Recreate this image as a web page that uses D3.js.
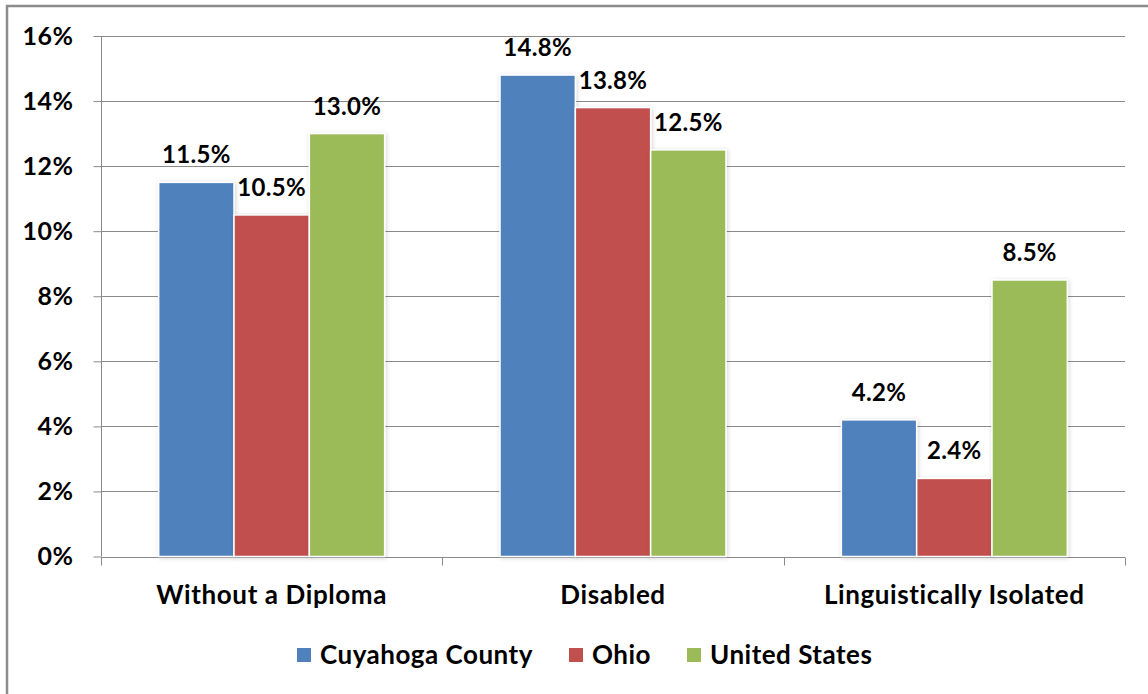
<!DOCTYPE html>
<html>
<head>
<meta charset="utf-8">
<script src="https://cdn.jsdelivr.net/npm/d3@7"></script>
<style>
  body { margin: 0; background: #fff; }
  svg { display: block; font-family: Lato, "Open Sans", sans-serif; font-weight: bold; }
</style>
</head>
<body>
<div id="chart"></div>
<script>
// data
const categories = ["Without a Diploma", "Disabled", "Linguistically Isolated"];
const seriesNames = ["Cuyahoga County", "Ohio", "United States"];
const cuyahoga = [11.5, 14.8, 4.2];
const ohio = [10.5, 13.8, 2.4];
const unitedStates = [13.0, 12.5, 8.5];
const yTicks = [0, 2, 4, 6, 8, 10, 12, 14, 16];
const colors = ["#4F81BD", "#C0504D", "#9BBB59"];

const width = 1148, height = 694;
const margin = {top: 36, right: 23, bottom: 137, left: 101};

const seriesValues = [cuyahoga, ohio, unitedStates];
const rows = categories.map((c, i) => ({
  category: c,
  values: seriesNames.map((s, j) => ({series: s, idx: j, value: seriesValues[j][i]}))
}));

let svg = d3.select("#chart").append("svg")
  .attr("width", width)
  .attr("height", height);

// drop shadow used on the bars
let defs = svg.append("defs");
let shadow = defs.append("filter").attr("id", "shadow")
  .attr("x", "-20%").attr("y", "-20%").attr("width", "140%").attr("height", "140%");
shadow.append("feDropShadow")
  .attr("dx", 1).attr("dy", 1).attr("stdDeviation", 2)
  .attr("flood-color", "#000").attr("flood-opacity", 0.18);

// outer frame (only top and left edge show in the picture)
svg.append("path")
  .attr("d", `M7,${height} V6 H${width}`)
  .attr("fill", "none")
  .attr("stroke", "#8c8c8c")
  .attr("stroke-width", 2.5);

let x0 = d3.scaleBand()
  .domain(categories)
  .range([margin.left, width - margin.right])
  .paddingInner(0.338)
  .paddingOuter(0.169);

let x1 = d3.scaleBand()
  .domain(seriesNames)
  .range([0, x0.bandwidth()]);

let y = d3.scaleLinear()
  .domain([0, 16])
  .range([height - margin.bottom - 0.5, margin.top]);

// gridlines
svg.append("g")
  .selectAll("line")
  .data(yTicks.filter(d => d > 0))
  .join("line")
  .attr("x1", margin.left)
  .attr("x2", width - margin.right)
  .attr("y1", d => Math.round(y(d)) + 0.5)
  .attr("y2", d => Math.round(y(d)) + 0.5)
  .attr("stroke", "#8a8a8a")
  .attr("stroke-width", 1);

// y axis
let yAxis = svg.append("g")
  .attr("transform", `translate(${margin.left + 0.5},0)`)
  .call(d3.axisLeft(y).tickValues(yTicks).tickFormat(d => d + "%").tickSize(8).tickPadding(20));
yAxis.selectAll("line, path").attr("stroke", "#8a8a8a");
yAxis.select(".domain").attr("d", `M0,${y(0)}V${y(16)}`);
yAxis.selectAll("text")
  .attr("fill", "#000")
  .style("font-size", "25px")
  .style("letter-spacing", "0.5px")
  .style("font-family", "Lato, sans-serif")
  .style("font-weight", "bold");

// x axis with ticks between categories
let xAxisG = svg.append("g")
  .attr("transform", `translate(0,${Math.round(y(0)) + 0.5})`);
xAxisG.append("line")
  .attr("x1", margin.left).attr("x2", width - margin.right)
  .attr("stroke", "#8a8a8a");
let step = x0.step();
xAxisG.selectAll("line.tick")
  .data(d3.range(categories.length + 1))
  .join("line")
  .attr("class", "tick")
  .attr("x1", i => Math.round(margin.left + i * step) + 0.5)
  .attr("x2", i => Math.round(margin.left + i * step) + 0.5)
  .attr("y1", 0).attr("y2", 8)
  .attr("stroke", "#8a8a8a");
xAxisG.selectAll("text")
  .data(categories)
  .join("text")
  .attr("x", d => x0(d) + x0.bandwidth() / 2)
  .attr("y", 46)
  .attr("text-anchor", "middle")
  .style("font-size", "26px")
  .style("letter-spacing", "0.6px")
  .text(d => d);

// bars
let groups = svg.append("g")
  .selectAll("g")
  .data(rows)
  .join("g")
  .attr("transform", d => `translate(${x0(d.category)},0)`);

groups.selectAll("rect")
  .data(d => d.values)
  .join("rect")
  .attr("x", d => x1(d.series))
  .attr("y", d => y(d.value))
  .attr("width", x1.bandwidth())
  .attr("height", d => y(0) - y(d.value))
  .attr("fill", d => colors[d.idx])
  .attr("stroke", "#fff")
  .attr("stroke-width", 1.5)
  .attr("filter", "url(#shadow)");

groups.selectAll("text")
  .data(d => d.values)
  .join("text")
  .attr("x", d => x1(d.series) + x1.bandwidth() / 2)
  .attr("y", d => y(d.value) - 19)
  .attr("text-anchor", "middle")
  .style("font-size", "24px")
  .style("letter-spacing", "0.3px")
  .text(d => d.value.toFixed(1) + "%");

// legend
let legendX = [297, 569, 687];
let legend = svg.append("g")
  .selectAll("g")
  .data(seriesNames)
  .join("g")
  .attr("transform", (d, i) => `translate(${legendX[i]},648)`);
legend.append("rect")
  .attr("width", 14).attr("height", 14)
  .attr("fill", (d, i) => colors[i]);
legend.append("text")
  .attr("x", 23)
  .attr("y", 16)
  .style("font-size", "26px")
  .style("letter-spacing", "0.5px")
  .text(d => d);
</script>
</body>
</html>
